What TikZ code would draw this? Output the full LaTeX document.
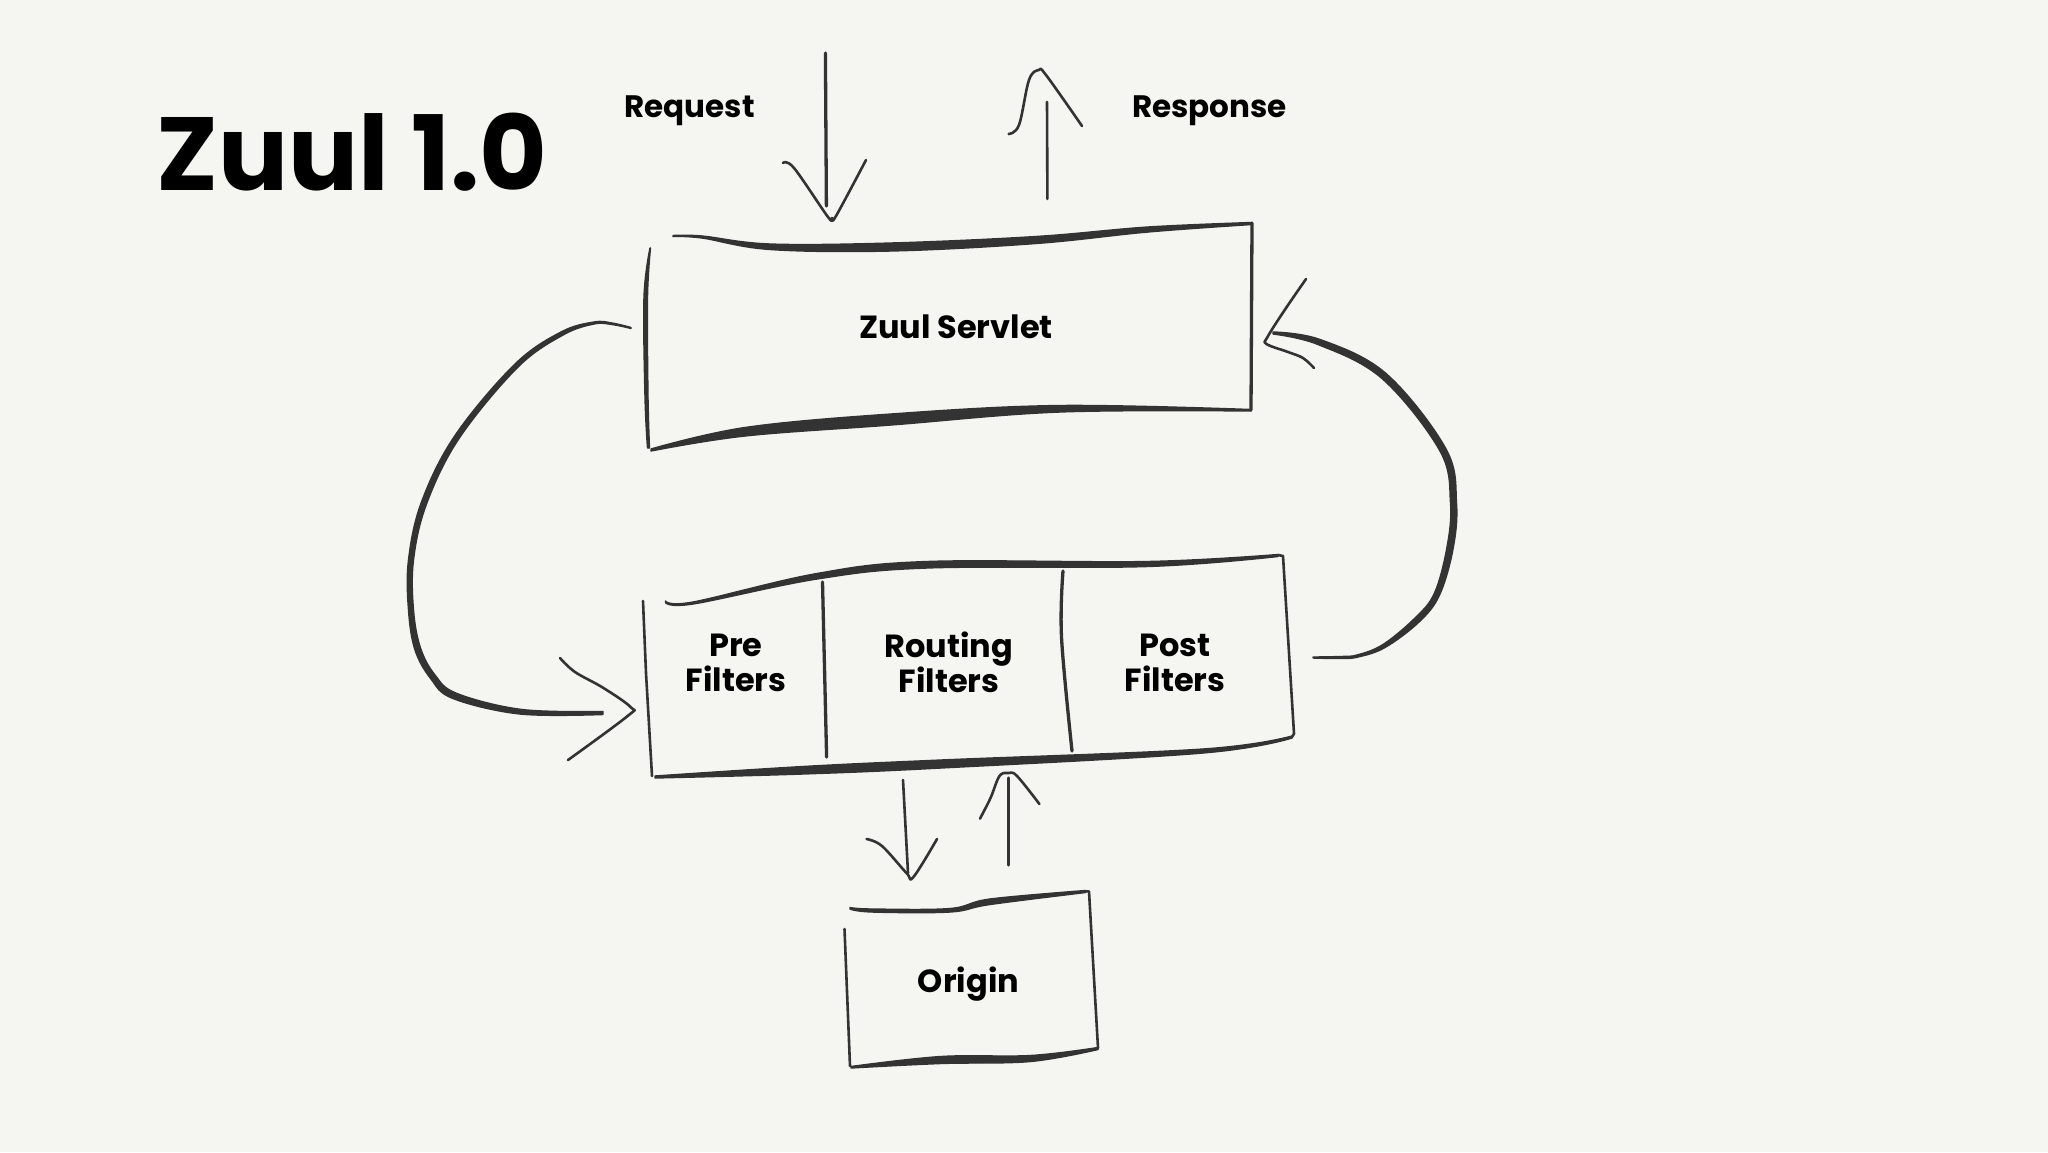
\documentclass[tikz,border=0pt]{standalone}
\usepackage{fontspec}
\setmainfont{Poppins}[BoldFont={Poppins Bold}]
\definecolor{paper}{HTML}{F5F5F2}
\definecolor{ink}{HTML}{333333}
\tikzset{
  thinstroke/.style={draw=ink,line width=2.6pt,line cap=round,line join=round},
  midstroke/.style={draw=ink,line width=3.3pt,line cap=round,line join=round},
  brush/.style={fill=ink,draw=ink,line width=1.4pt,line join=round},
  sm/.style={smooth,tension=.6},
  label/.style={font=\fontsize{32}{35}\selectfont\bfseries,text=black,inner sep=0pt,align=center},
  titletext/.style={font=\fontsize{104}{110}\selectfont\bfseries,text=black,inner sep=0pt}
}
\begin{document}
\begin{tikzpicture}[x=1pt,y=-1pt]
\fill[paper] (0,0) rectangle (2048,1152);
\useasboundingbox (0,0) rectangle (2048,1152);
% texts
\node[titletext,anchor=base] (title) at (352,190) {Zuul 1.0};
\node[label,anchor=base,font=\fontsize{31}{35}\selectfont\bfseries] (request) at (689.5,117) {Request};
\node[label,anchor=base,font=\fontsize{31}{35}\selectfont\bfseries] (response) at (1209.5,117) {Response};
\node[label,anchor=base] (servlet) at (956,338) {Zuul Servlet};
\node[label] (pre) at (736,663) {Pre\\Filters};
\node[label] (routing) at (949,662) {Routing\\Filters};
\node[label] (post) at (1175,663) {Post\\Filters};
\node[label,anchor=base] (origin) at (968.5,992.5) {Origin};
% connector anchors
\coordinate (reqA) at (825.4,53);
\coordinate (reqB) at (826.4,206);
\coordinate (resA) at (1047.4,199);
\coordinate (resB) at (1047,102);
\coordinate (dnA) at (903,780);
\coordinate (dnB) at (908,873);
\coordinate (upA) at (1008.5,865);
\coordinate (upB) at (1008.5,778);
% Zuul Servlet box
\fill[brush] plot[sm] coordinates {(673,235.5)(702,236)(770,244)(891,243)(1036,236.5)(1148,227)(1252,222.5)}
  -- plot[sm] coordinates {(1252,224.5)(1148,232)(1036,243.5)(891,251)(770,249.5)(702,238)(673,236.5)} -- cycle;
\draw[midstroke] (1252,223) -- (1251,410);
\fill[brush] plot[sm] coordinates {(1251,409.5)(1060,405.5)(891,414)(745,427.5)(651,449)}
  -- plot[sm] coordinates {(651,451)(745,436)(891,425)(1060,412)(1251,411)} -- cycle;
\fill[brush] plot[sm] coordinates {(650,248)(644,297)(645,397)(647.5,448)}
  -- plot[sm] coordinates {(649.5,448)(648,397)(647.5,297)(650.5,248)} -- cycle;
% Filters box
\fill[brush] plot[sm] coordinates {(665.5,601)(693,602)(817,573.5)(927,561.5)(1147.6,561.5)(1278,554.5)}
  -- plot[sm] coordinates {(1278,556.5)(1147.6,566.5)(927,568)(817,579)(693,604)(665.5,602.5)} -- cycle;
\draw[thinstroke] (1278,555) -- (1283,556) -- (1294,733.6) -- (1292,737);
\fill[brush] plot[sm] coordinates {(1292,736)(1203,749)(941,760)(803,766.5)(655,776)}
  -- plot[sm] coordinates {(655,778)(803,774)(941,768)(1203,753)(1292,738)} -- cycle;
\draw[thinstroke] (643,601) -- (646,673) -- (652,776);
\draw[midstroke] (822.5,582) -- (826.6,757);
\draw[midstroke] plot[sm] coordinates {(1063,571)(1061.5,637)(1072,751)};
% Origin box
\fill[brush] plot[sm] coordinates {(850,907.5)(872,909)(950,908.5)(990,899)(1085.6,890.5)}
  -- plot[sm] coordinates {(1085.6,892.5)(990,904.5)(950,912)(872,912)(850,909)} -- cycle;
\draw[thinstroke] (1085.6,891.4) -- (1089,891.4) -- (1098,1048);
\fill[brush] plot[sm] coordinates {(1098,1047.5)(1030.5,1055.5)(941,1056.5)(851,1066.5)}
  -- plot[sm] coordinates {(851,1068)(941,1063.5)(1030.5,1061.5)(1098,1049.5)} -- cycle;
\draw[thinstroke] (844.5,929) -- (850,1066);
% request arrow
\draw[midstroke] (reqA) -- (reqB);
\draw[thinstroke] plot[sm] coordinates {(783,163)(794,168)(828,217)(832,218)(836,216)(866,160)};
% response arrow
\draw[thinstroke] (resA) -- (resB);
\draw[thinstroke] plot[sm] coordinates {(1008.6,134)(1019,125)(1029,80)(1038.7,70)(1046,75)(1082,126)};
% left curve
\fill[brush] plot[sm] coordinates {(631,327.5)(612,323)(594,322)(561,332)(514.5,364.5)(455,435.5)(421.5,502)(408.5,560)(408.5,610)(415,650)(431,679)(453,698.5)(520,714)(603,714.5)}
  -- plot[sm] coordinates {(603,711.5)(522,709.5)(457,693.5)(435,675)(420.5,648)(413.5,610)(413.5,560)(426.5,504)(459,438.5)(517.5,367.5)(563,335)(594,324)(612,324.5)(631,328.5)} -- cycle;
\draw[thinstroke] plot[sm] coordinates {(560,658)(575,672)(603.5,688)(631,707.5)(627.6,716)(568,760)};
% right curve
\fill[brush] plot[sm] coordinates {(1273,332)(1320,339.5)(1386,373.5)(1446,449)(1456.5,503)(1453,549)(1439.5,595)(1419,622)(1385,647.5)(1358,657)(1340,658.5)(1313,658)}
  -- plot[sm] coordinates {(1313,657)(1340,656.5)(1357,655)(1383,644.5)(1415,618)(1434.5,593)(1447,547)(1450.5,503)(1440,451)(1382,378.5)(1318,344.5)(1273,334)} -- cycle;
\draw[thinstroke] plot[sm] coordinates {(1306,279)(1284,311)(1267.5,337)(1266.5,344)(1288,352)(1303,358)(1314,368)};
% down arrow
\draw[thinstroke] (dnA) -- (dnB);
\draw[thinstroke] plot[sm] coordinates {(866.6,839)(882,846)(906.5,873)(913.4,877)(937,839)};
% up arrow
\draw[midstroke] (upA) -- (upB);
\draw[thinstroke] plot[sm] coordinates {(980,818.6)(990.5,798)(999.5,776)(1008.5,773)(1017,776)(1039.4,804)};
\end{tikzpicture}
\end{document}
